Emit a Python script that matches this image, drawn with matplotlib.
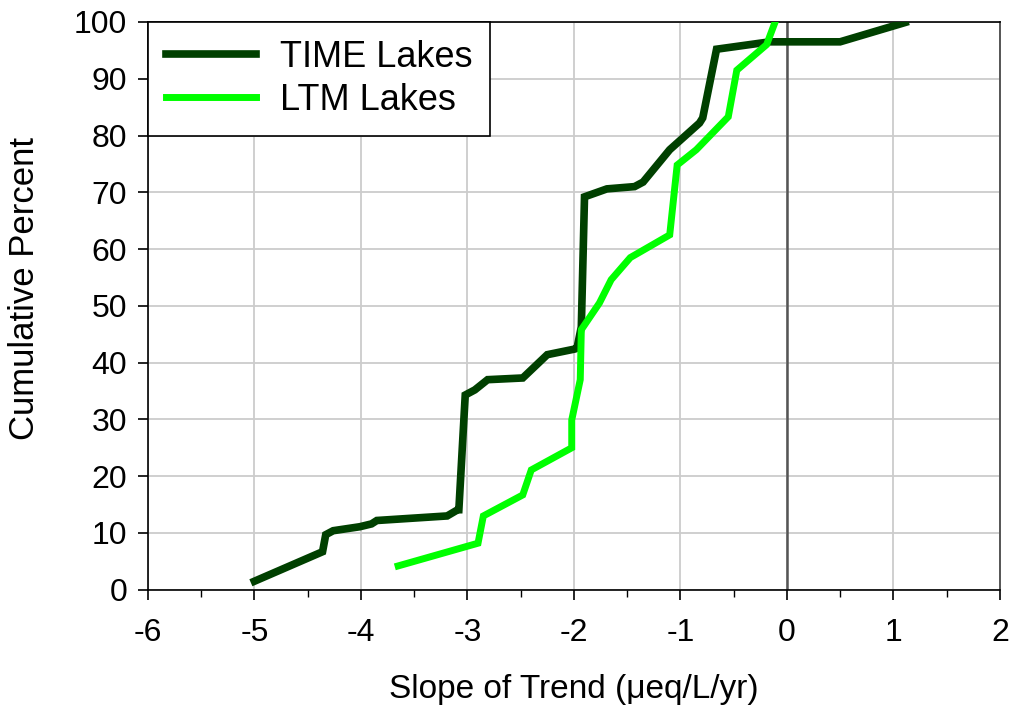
import matplotlib
matplotlib.use("Agg")
import matplotlib.pyplot as plt
from matplotlib.ticker import MultipleLocator

plt.rcParams['font.family'] = ['Liberation Sans', 'DejaVu Sans']
plt.rcParams['axes.unicode_minus'] = False

# Cumulative distribution of trend slopes (ueq/L/yr vs cumulative percent)
time_slope = [-5.00, -4.36, -4.33, -4.26, -4.01, -3.90, -3.85, -3.19, -3.09,
              -3.08, -3.02, -2.93, -2.81, -2.48, -2.25, -1.99, -1.97, -1.93,
              -1.90, -1.69, -1.43, -1.35, -1.10, -0.82, -0.79, -0.66, -0.16,
              0.50, 1.11]
time_pct = [1.5, 6.7, 9.7, 10.4, 11.1, 11.6, 12.2, 13.0, 14.1,
            14.1, 34.3, 35.2, 37.0, 37.3, 41.4, 42.4, 42.6, 46.3,
            69.2, 70.6, 71.0, 71.8, 77.5, 82.2, 83.1, 95.2, 96.5,
            96.5, 99.9]

ltm_slope = [-3.65, -2.90, -2.85, -2.48, -2.40, -2.02, -2.02, -1.94, -1.93,
             -1.76, -1.65, -1.47, -1.10, -1.03, -0.85, -0.55, -0.47, -0.19,
             -0.11]
ltm_pct = [4.2, 8.2, 13.0, 16.7, 21.1, 25.0, 29.9, 37.0, 45.8,
           50.5, 54.6, 58.5, 62.5, 74.8, 77.5, 83.3, 91.5, 96.0,
           100.0]

x_ticks = [-6, -5, -4, -3, -2, -1, 0, 1, 2]
y_ticks = [0, 10, 20, 30, 40, 50, 60, 70, 80, 90, 100]

fig = plt.figure(figsize=(10.13, 7.08), dpi=100)
ax = fig.add_axes([0.146, 0.167, 0.841, 0.802])

ax.set_xlim(-6, 2)
ax.set_ylim(0, 100)
ax.set_xticks(x_ticks)
ax.set_yticks(y_ticks)
ax.xaxis.set_minor_locator(MultipleLocator(0.5))

ax.set_axisbelow(True)
ax.grid(True, which='major', color='#cccccc', linewidth=1.3)
ax.axvline(0, color='#555555', linewidth=1.8, zorder=2)

ax.plot(time_slope, time_pct, color='#004000', linewidth=5.5,
        solid_joinstyle='miter', label='TIME Lakes', zorder=3)
ax.plot(ltm_slope, ltm_pct, color='#00ff00', linewidth=5.0,
        solid_joinstyle='miter', label='LTM Lakes', zorder=3)

for side in ['left', 'bottom', 'top']:
    ax.spines[side].set_color('black')
    ax.spines[side].set_linewidth(1.2)
ax.spines['right'].set_color('#555555')
ax.spines['right'].set_linewidth(1.4)

ax.tick_params(axis='both', which='major', direction='out', length=7,
               width=1.2, labelsize=23, colors='black')
ax.tick_params(axis='x', which='minor', direction='out', length=5, width=1.0)
ax.tick_params(axis='x', which='major', pad=13)
ax.tick_params(axis='y', which='major', pad=8)

ax.set_xlabel('Slope of Trend (μeq/L/yr)', fontsize=24, labelpad=19)
ax.set_ylabel('Cumulative Percent', fontsize=25)
ax.yaxis.set_label_coords(-0.126, 0.53)

leg = ax.legend(loc='upper left', fontsize=26, frameon=True, fancybox=False,
                edgecolor='black', framealpha=1, borderaxespad=0,
                handlelength=2.5, handletextpad=0.65, borderpad=0.5,
                labelspacing=0.22)
leg.get_frame().set_linewidth(1.2)

fig.savefig('out.png', dpi=100)
